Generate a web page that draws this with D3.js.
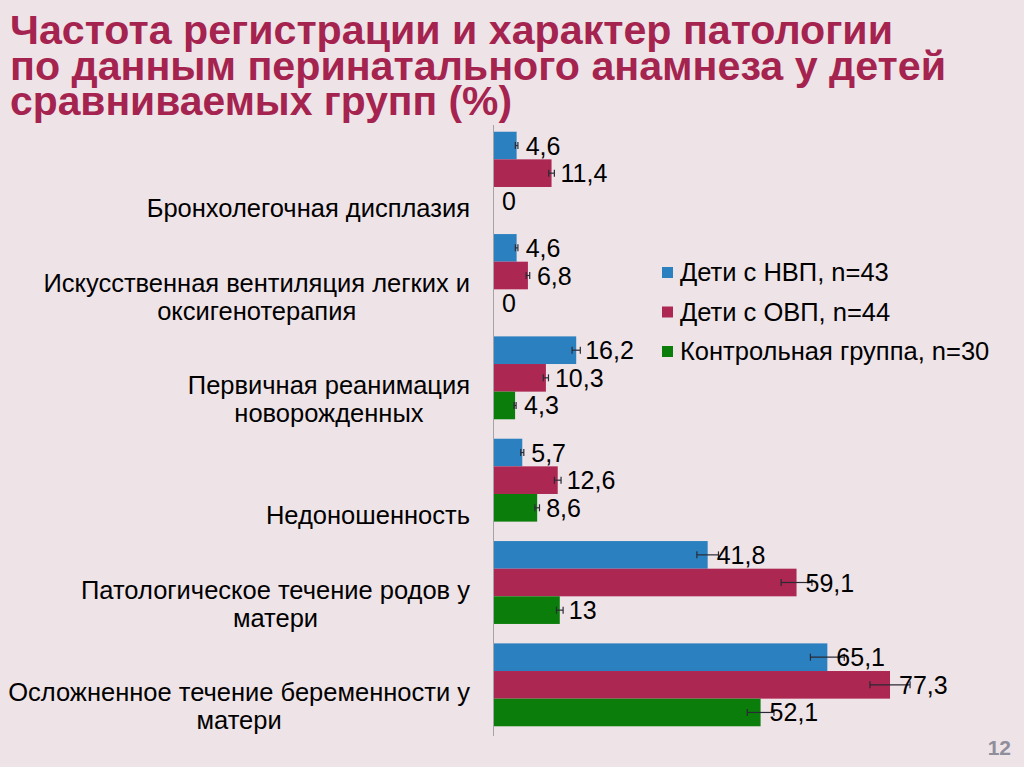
<!DOCTYPE html>
<html><head><meta charset="utf-8">
<script src="https://cdn.jsdelivr.net/npm/d3@7"></script>
<style>
html,body{margin:0;padding:0;background:#EEE3E7;}
svg{display:block;}
text{font-family:"Liberation Sans",Arial,sans-serif;}
</style></head>
<body>
<svg id="chart" width="1024" height="767"></svg>
<script>
const titleLines = ["Частота регистрации и характер патологии","по данным перинатального анамнеза у детей","сравниваемых групп (%)"];
const titleWidths = [883,936,502];
const categories = ["Бронхолегочная дисплазия","Искусственная вентиляция легких и оксигенотерапия","Первичная реанимация новорожденных","Недоношенность","Патологическое течение родов у матери","Осложненное течение беременности у матери"];
const categoryLines = [["Бронхолегочная дисплазия"],["Искусственная вентиляция легких и","оксигенотерапия"],["Первичная реанимация","новорожденных"],["Недоношенность"],["Патологическое течение родов у","матери"],["Осложненное течение беременности у","матери"]];
const seriesNames = ["Дети с НВП, n=43","Дети с ОВП, n=44","Контрольная группа, n=30"];
const seriesColors = ["#2B81C0","#AC2752","#0A7D0A"];
const valuesNVP = [4.6,4.6,16.2,5.7,41.8,65.1];
const valuesOVP = [11.4,6.8,10.3,12.6,59.1,77.3];
const valuesControl = [0,0,4.3,8.6,13,52.1];
const errorsNVP = [0.25,0.25,0.8,0.3,2.1,3.3];
const errorsOVP = [0.55,0.35,0.5,0.65,3.0,3.9];
const errorsControl = [0,0,0.2,0.45,0.65,2.6];
const valueLabelsNVP = ["4,6","4,6","16,2","5,7","41,8","65,1"];
const valueLabelsOVP = ["11,4","6,8","10,3","12,6","59,1","77,3"];
const valueLabelsControl = ["0","0","4,3","8,6","13","52,1"];
const pageNumber = "12";

const series = [
  {name:seriesNames[0], color:seriesColors[0], values:valuesNVP, errors:errorsNVP, labels:valueLabelsNVP},
  {name:seriesNames[1], color:seriesColors[1], values:valuesOVP, errors:errorsOVP, labels:valueLabelsOVP},
  {name:seriesNames[2], color:seriesColors[2], values:valuesControl, errors:errorsControl, labels:valueLabelsControl}
];

const svg = d3.select("#chart");
svg.append("rect").attr("width",1024).attr("height",767).attr("fill","#EEE3E7");

// title
const title = svg.append("g");
titleLines.forEach((t,i)=>{
  title.append("text").attr("x",10).attr("y",44+i*35.5)
    .attr("font-size",40).attr("font-weight","bold").attr("fill","#A5234F")
    .attr("textLength",titleWidths[i]).attr("lengthAdjust","spacingAndGlyphs").text(t);
});

const x = d3.scaleLinear().domain([0,100]).range([493,1006.6]);
const y = d3.scaleBand().domain(categories).range([122,736]).paddingInner(0.19).paddingOuter(0.095);
const ys = d3.scaleBand().domain(d3.range(series.length)).range([0,y.bandwidth()]);

const plot = svg.append("g");
series.forEach((s,si)=>{
  const g = plot.append("g");
  g.selectAll("rect").data(categories).join("rect")
    .attr("x",x(0)).attr("y",(c)=>y(c)+ys(si))
    .attr("width",(c,i)=>x(s.values[i])-x(0))
    .attr("height",ys.bandwidth()).attr("fill",s.color);
});
// error bars
series.forEach((s,si)=>{
  const g = plot.append("g").attr("stroke","#2a2a35").attr("stroke-width",1.2);
  categories.forEach((c,i)=>{
    if(s.values[i]===0) return;
    const cy = y(c)+ys(si)+ys.bandwidth()/2;
    const x1 = x(s.values[i]-s.errors[i]), x2 = x(s.values[i]+s.errors[i]);
    g.append("line").attr("x1",x1).attr("x2",x2).attr("y1",cy).attr("y2",cy);
    g.append("line").attr("x1",x1).attr("x2",x1).attr("y1",cy-3.5).attr("y2",cy+3.5);
    g.append("line").attr("x1",x2).attr("x2",x2).attr("y1",cy-3.5).attr("y2",cy+3.5);
  });
});
// value labels
series.forEach((s,si)=>{
  plot.append("g").selectAll("text").data(categories).join("text")
    .attr("x",(c,i)=>x(s.values[i])+9)
    .attr("y",(c)=>y(c)+ys(si)+ys.bandwidth()/2)
    .attr("dy","0.36em").attr("font-size",25).attr("fill","#000")
    .text((c,i)=>s.labels[i]);
});

// axis line
svg.append("line").attr("x1",493.5).attr("x2",493.5).attr("y1",125).attr("y2",736)
  .attr("stroke","#A3A3A8").attr("stroke-width",1);

// category labels
const catG = svg.append("g");
categories.forEach((c,i)=>{
  const lines = categoryLines[i];
  const g = catG.append("g");
  const base = y(c)+85.5;
  const texts = lines.map((l,li)=>g.append("text").attr("font-size",25.5).attr("fill","#000")
      .attr("y",base-(lines.length-1-li)*28).attr("text-anchor","middle").text(l));
  const maxW = d3.max(texts,t=>t.node().getComputedTextLength());
  texts.forEach(t=>t.attr("x",470-maxW/2));
});

// legend
const leg = svg.append("g");
series.forEach((s,i)=>{
  const by = 281+i*39.5;
  leg.append("rect").attr("x",662).attr("y",by-14).attr("width",11).attr("height",11).attr("fill",s.color);
  leg.append("text").attr("x",680).attr("y",by).attr("font-size",25.5).attr("fill","#000").text(s.name);
});

svg.append("text").attr("x",1011).attr("y",755).attr("text-anchor","end")
  .attr("font-size",21).attr("font-weight","bold").attr("fill","#8E8E9C").text(pageNumber);
</script>
</body></html>
